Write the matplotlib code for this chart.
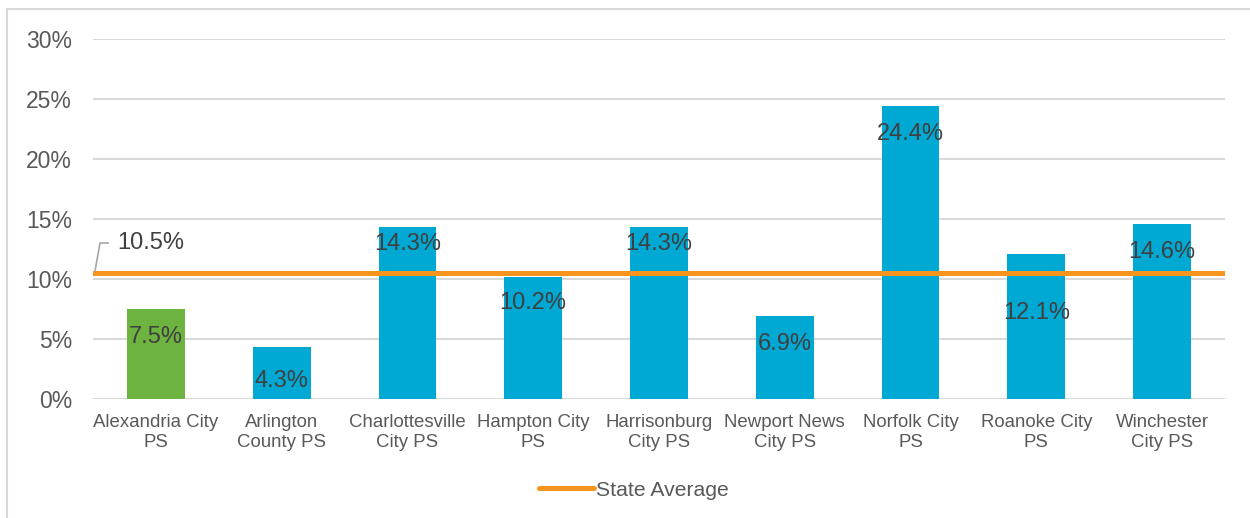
import matplotlib
matplotlib.use("Agg")
import matplotlib.pyplot as plt
from matplotlib.patches import Rectangle
from matplotlib.ticker import FuncFormatter

categories = ["Alexandria City\nPS", "Arlington\nCounty PS", "Charlottesville\nCity PS",
              "Hampton City\nPS", "Harrisonburg\nCity PS", "Newport News\nCity PS",
              "Norfolk City\nPS", "Roanoke City\nPS", "Winchester\nCity PS"]
values = [7.5, 4.3, 14.3, 10.2, 14.3, 6.9, 24.4, 12.1, 14.6]
state_average = 10.5
series_name = "State Average"
yticks = [0, 5, 10, 15, 20, 25, 30]

# styling
label_offsets_px = [28, 34, 17, 26, 17, 28, 28, 59, 28]
bar_colors = ["#6DB33F"] + ["#00A9D4"] * 8
text_color = "#595959"
grid_color = "#D9D9D9"
orange = "#F7941D"

plt.rcParams['font.family'] = ['Liberation Sans', 'DejaVu Sans']

fig = plt.figure(figsize=(12.5, 5.18), dpi=100)
ax = fig.add_axes([93/1250, 1-399/518, (1225-93)/1250, (399-39)/518])

x = list(range(len(values)))
ax.bar(x, values, width=0.46, color=bar_colors, zorder=2)
ax.set_xlim(-0.5, len(values)-0.5)
ax.set_ylim(0, 30)
ax.set_yticks(yticks)
ax.yaxis.set_major_formatter(FuncFormatter(lambda v, p: f"{v:.0f}%"))
ax.grid(axis='y', color=grid_color, linewidth=1.5, zorder=0)
ax.tick_params(axis='y', length=0, pad=15, labelsize=16.5, labelcolor=text_color)
ax.tick_params(axis='x', length=0, pad=11, labelsize=13.4, labelcolor=text_color)
ax.set_xticks(x)
ax.set_xticklabels(categories, linespacing=1.2)
for s in ax.spines.values():
    s.set_visible(False)

for xi, v, off in zip(x, values, label_offsets_px):
    ax.annotate(f"{v:.1f}%", xy=(xi, v), xytext=(0, -off*0.72), textcoords='offset points',
                ha='center', va='center', fontsize=17, color="#404040", zorder=4)

line = ax.axhline(state_average, color=orange, linewidth=3.6, zorder=3, label=series_name,
                  solid_capstyle='round')

# leader line and label for state average
ax.plot([-0.484, -0.444, -0.38], [10.67, 13.0, 13.0], color="#A6A6A6", linewidth=1.2,
        zorder=4, clip_on=False)
ax.text(-0.31, 13.0, f"{state_average:.1f}%", ha='left', va='center', fontsize=17,
        color="#404040", zorder=4)

leg = fig.legend(handles=[line], loc='center', bbox_to_anchor=(634/1250, 1-490/518),
                 frameon=False, fontsize=15.2, handlelength=2.6, handletextpad=0.1,
                 labelcolor=text_color)

fig.patches.append(Rectangle((7/1250, -0.05), 1.2, 1-9/518+0.05, transform=fig.transFigure,
                             fill=False, edgecolor=grid_color, linewidth=1.5))

fig.savefig("out.png", dpi=100)
